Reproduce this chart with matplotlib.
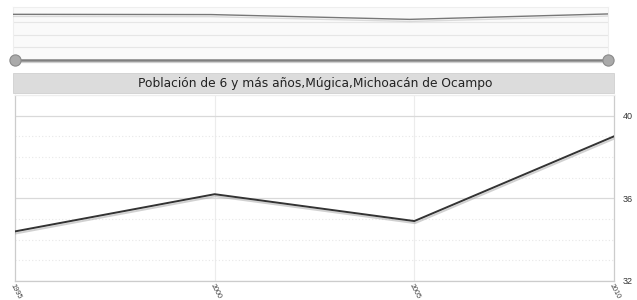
import matplotlib
matplotlib.use("Agg")
import matplotlib.pyplot as plt
import matplotlib.patheffects as pe
from matplotlib.patches import Rectangle
from matplotlib.ticker import MultipleLocator

plt.rcParams['font.family'] = ['Liberation Sans', 'DejaVu Sans']

years = [1995, 2000, 2005, 2010]
values = [34.4, 36.2, 34.9, 39.0]
nav_values = [3.62, 3.60, 3.22, 3.65]
y_ticks = [32, 36, 40]
x_tick_labels = ["1995", "2000", "2005", "2010"]
title = "Población de 6 y más años,Múgica,Michoacán de Ocampo"

W, H = 637, 300
fig = plt.figure(figsize=(W / 100, H / 100), dpi=100)
fig.patch.set_facecolor("white")

def rect(x0, y0, x1, y1):
    return [x0 / W, 1 - y1 / H, (x1 - x0) / W, (y1 - y0) / H]

# ---- navigator ----
nav = fig.add_axes(rect(13, 7, 608, 60))
nav.set_facecolor("#fafafa")
nav.set_xlim(years[0], years[-1])
nav.set_ylim(0, 4.2)
for g in [1, 2, 3]:
    nav.axhline(g, color="#e6e6e6", lw=0.8, zorder=1)
nav.plot(years, nav_values, color="#777777", lw=1.0, zorder=3,
         path_effects=[pe.SimpleLineShadow(offset=(0, -1.5), shadow_color="#bbbbbb", alpha=0.5), pe.Normal()])
nav.set_xticks([])
nav.set_yticks([])
for s in nav.spines.values():
    s.set_color("#eeeeee")
    s.set_linewidth(0.8)

# handles and bar
ov = fig.add_axes([0, 0, 1, 1], facecolor="none")
ov.set_xlim(0, W)
ov.set_ylim(H, 0)
ov.axis("off")
ov.plot([15, 608], [60, 60], color="#808080", lw=1.8, solid_capstyle="butt", zorder=2)
ov.plot([15, 608], [61.5, 61.5], color="#cfcfcf", lw=0.9, zorder=1)
for hx in [15, 608]:
    ov.scatter([hx], [60], s=65, color="#aaaaaa", edgecolor="#8a8a8a", linewidth=0.8, zorder=4)

# title bar
ov.add_patch(Rectangle((13, 73), 601, 20, facecolor="#dcdcdc", edgecolor="#d0d0d0", lw=0.6, zorder=1))
ov.text(315, 83.5, title, ha="center", va="center", fontsize=8.8, color="#222222",
        family=["DejaVu Sans"], zorder=3)

# ---- main chart ----
ax = fig.add_axes(rect(15, 95, 614, 281))
ax.set_xlim(years[0], years[-1])
ax.set_ylim(32, 41)
ax.yaxis.tick_right()
ax.set_yticks(y_ticks)
ax.set_yticklabels([str(v) for v in y_ticks], fontsize=6.5, color="#333333")
ax.yaxis.set_minor_locator(MultipleLocator(1))
ax.tick_params(axis="y", which="both", length=0, pad=6)
ax.grid(axis="y", which="major", color="#d9d9d9", lw=0.9)
ax.grid(axis="y", which="minor", color="#e8e8e8", lw=0.8, linestyle=(0, (1, 2)))
ax.set_xticks(years)
ax.set_xticklabels(x_tick_labels, fontsize=5.2, color="#444444", rotation=-62,
                   ha="left", va="top", rotation_mode="anchor")
ax.tick_params(axis="x", length=0, pad=1.5)
for yr in years[1:-1]:
    ax.axvline(yr, color="#ececec", lw=0.8, zorder=1)
ax.plot(years, values, color="#333333", lw=1.4, zorder=3,
        path_effects=[pe.SimpleLineShadow(offset=(0.5, -1.5), shadow_color="#999999", alpha=0.45), pe.Normal()])
for name, s in ax.spines.items():
    s.set_color("#cccccc")
    s.set_linewidth(0.9)
ax.spines["top"].set_color("#eeeeee")

fig.savefig("out.png", dpi=100)
